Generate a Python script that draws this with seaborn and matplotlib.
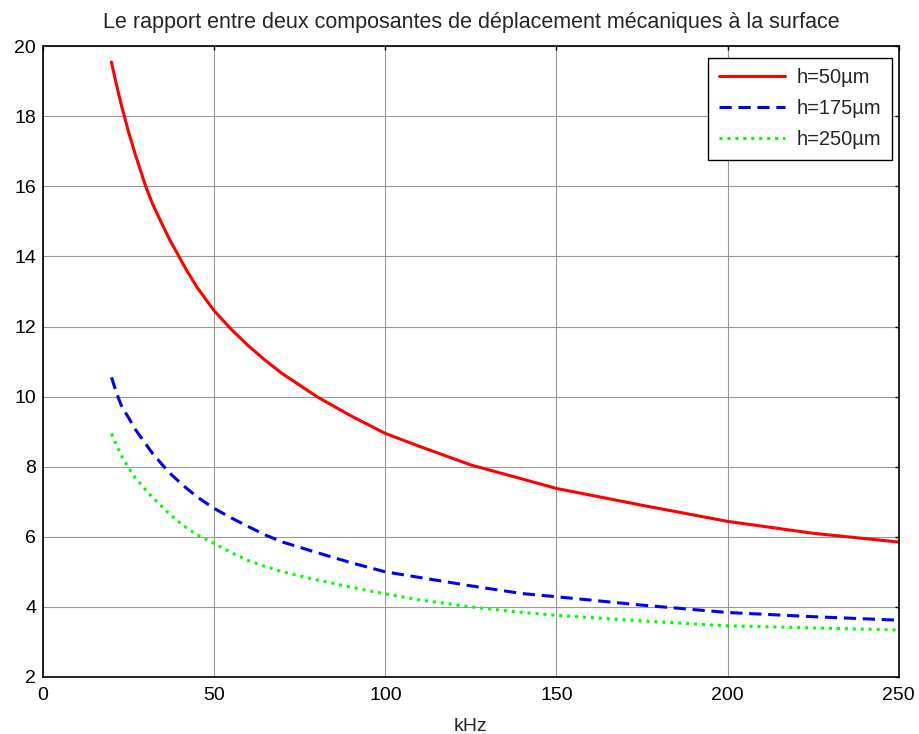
import numpy as np
import pandas as pd
import matplotlib
matplotlib.use("Agg")
import matplotlib.pyplot as plt
import seaborn as sns

# frequencies (kHz)
freq = [20, 21, 22, 23, 25, 27, 30, 32, 35, 37, 40, 42, 45, 50, 55, 60, 65, 70, 80, 90,
        100, 110, 125, 140, 150, 175, 200, 225, 250]

# ratio values for each thickness
h50 = [19.55, 19.1, 18.68, 18.28, 17.55, 16.9, 16.0, 15.5, 14.88, 14.48, 13.95, 13.6, 13.12,
       12.45, 11.92, 11.45, 11.03, 10.65, 10.0, 9.45, 8.95, 8.58, 8.05, 7.65, 7.38, 6.9,
       6.44, 6.1, 5.85]
h175 = [10.55, 10.25, 9.97, 9.72, 9.4, 9.06, 8.65, 8.38, 8.04, 7.82, 7.55, 7.38, 7.14,
        6.81, 6.54, 6.29, 6.05, 5.85, 5.55, 5.26, 5.0, 4.84, 4.6, 4.38, 4.29, 4.05,
        3.84, 3.72, 3.62]
h250 = [8.94, 8.72, 8.5, 8.3, 7.97, 7.68, 7.34, 7.12, 6.84, 6.65, 6.4, 6.25, 6.06,
        5.81, 5.55, 5.32, 5.15, 5.0, 4.77, 4.56, 4.37, 4.2, 4.0, 3.84, 3.76, 3.6,
        3.46, 3.4, 3.34]

labels = ['h=50µm', 'h=175µm', 'h=250µm']
colors = ['#ff0000', '#0000ff', '#00ff00']
styles = ['-', (0, (4, 2.2)), (0, (1, 1.6))]

sns.set_style("white")
plt.rcParams['font.family'] = ['Liberation Sans', 'DejaVu Sans']

fig = plt.figure(figsize=(9.19, 7.34), dpi=100)
ax = fig.add_axes([0.0468, 0.0777, 0.9312, 0.8593])

for vals, lab, col, ls in zip([h50, h175, h250], labels, colors, styles):
    df = pd.DataFrame({'kHz': freq, 'ratio': vals})
    sns.lineplot(data=df, x='kHz', y='ratio', ax=ax, color=col, linewidth=2.2,
                 linestyle=ls, label=lab)

ax.set_xlim(0, 250)
ax.set_ylim(2, 20)
ax.set_xticks(np.arange(0, 251, 50))
ax.set_yticks(np.arange(2, 21, 2))
ax.grid(True, color='#9a9a9a', linewidth=0.8)
ax.tick_params(direction='in', length=3, width=1, top=True, right=True,
               labelsize=14, colors='black')
ax.tick_params(axis='x', pad=7)
ax.tick_params(axis='y', pad=5)
for s in ax.spines.values():
    s.set_color('black')
    s.set_linewidth(1.2)

ax.set_xlabel('kHz', fontsize=14, labelpad=10)
ax.set_ylabel('')
ax.set_title('Le rapport entre deux composantes de déplacement mécaniques à la surface',
             fontsize=15.5, pad=13)

leg = ax.legend(loc='upper right', fontsize=14.5, fancybox=False, framealpha=1,
                edgecolor='black', handlelength=3.3, borderpad=0.5,
                labelspacing=0.6, handletextpad=0.6, borderaxespad=0,
                bbox_to_anchor=(0.9918, 0.981))
leg.get_frame().set_linewidth(1.0)

fig.savefig('out.png', dpi=100)
